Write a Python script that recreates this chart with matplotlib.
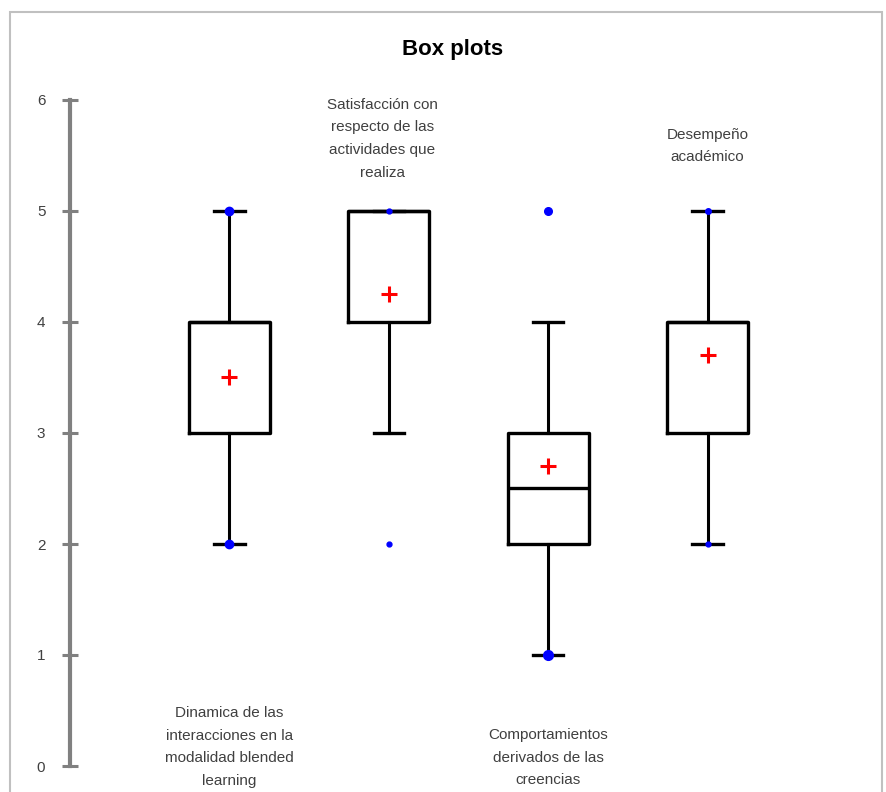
import matplotlib
matplotlib.use("Agg")
import matplotlib.pyplot as plt
from matplotlib.patches import Rectangle

# ---- data ----
categories = [
    "Dinamica de las\ninteracciones en la\nmodalidad blended\nlearning",
    "Satisfacción con\nrespecto de las\nactividades que\nrealiza",
    "Comportamientos\nderivados de las\ncreencias",
    "Desempeño\nacadémico",
]
q1 = [3, 4, 2, 3]
medians = [4, 5, 2.5, 4]
q3 = [4, 5, 3, 4]
whisker_low = [2, 3, 1, 2]
whisker_high = [5, 5, 4, 5]
means = [3.5, 4.25, 2.7, 3.7]
minimums = [2, 2, 1, 2]
maximums = [5, 5, 5, 5]
title = "Box plots"
yticks = [0, 1, 2, 3, 4, 5, 6]

plt.rcParams['font.family'] = ['Liberation Sans', 'DejaVu Sans']

fig = plt.figure(figsize=(8.87, 7.92), dpi=100)
W, H = 887, 792
ax = fig.add_axes([70 / W, (H - 766) / H, 797 / W, 666 / H])

positions = list(range(1, len(categories) + 1))
stats = []
for i in range(len(categories)):
    stats.append(dict(q1=q1[i], med=medians[i], q3=q3[i],
                      whislo=whisker_low[i], whishi=whisker_high[i],
                      mean=means[i], fliers=[]))

ax.bxp(stats, positions=positions, widths=0.51, capwidths=0.19,
       showmeans=True, showfliers=False,
       boxprops=dict(color='black', linewidth=2.4),
       medianprops=dict(color='black', linewidth=2.4),
       whiskerprops=dict(color='black', linewidth=2.2),
       capprops=dict(color='black', linewidth=2.4),
       meanprops=dict(marker='+', markeredgecolor='red', markersize=12,
                      markeredgewidth=2.2, linestyle='none'))

# min / max points
pt_sizes_min = [6, 3.5, 7, 3.5]
pt_sizes_max = [6, 3.5, 5.5, 4]
for i, p in enumerate(positions):
    ax.plot([p], [minimums[i]], 'o', color='blue', markersize=pt_sizes_min[i], zorder=5)
    ax.plot([p], [maximums[i]], 'o', color='blue', markersize=pt_sizes_max[i], zorder=5)

ax.set_xlim(0, 5.0)
ax.set_ylim(0, 6)
for s in ['top', 'right', 'bottom']:
    ax.spines[s].set_visible(False)
ax.spines['left'].set_color('#808080')
ax.spines['left'].set_linewidth(3)
ax.set_xticks([])
ax.set_yticks(yticks)
ax.set_yticklabels([str(t) for t in yticks])
ax.tick_params(axis='y', direction='inout', length=11.5, width=2.2,
               color='#808080', labelcolor='#404040', labelsize=11, pad=12)

# category labels (alternating bottom / top)
label_x = [1, 1.96, 3, 4]
label_y = [0.54, 6.02, 0.34, 5.75]
for i, p in enumerate(positions):
    ax.text(label_x[i], label_y[i], categories[i], ha='center', va='top',
            fontsize=11, color='#404040', linespacing=1.78, clip_on=False)

fig.text(453 / W, 1 - 50 / H, title, ha='center', va='center',
         fontsize=16, fontweight='bold', color='black')

# outer frame
fig.add_artist(Rectangle((10 / W, -0.05), (882 - 10) / W, (H - 12) / H + 0.05,
                         transform=fig.transFigure, fill=False,
                         edgecolor='#c0c0c0', linewidth=1.5))

fig.savefig("out.png", dpi=100)
